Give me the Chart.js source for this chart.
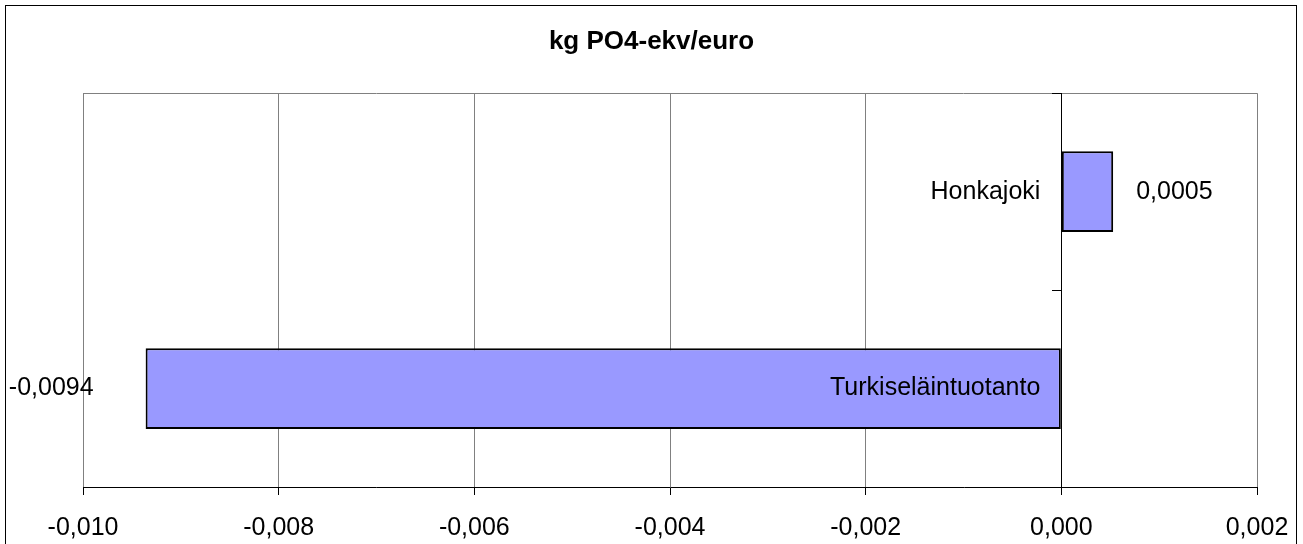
<!DOCTYPE html>
<html>
<head>
<meta charset="utf-8">
<script src="https://cdn.jsdelivr.net/npm/chart.js@4"></script>
<style>
  body { margin: 0; background: #fff; }
</style>
</head>
<body>
<canvas id="chart" width="1303" height="544"></canvas>
<script>
// chart data
const categories = ['Honkajoki', 'Turkiseläintuotanto'];
const values = [0.00053, -0.00936];
const xTicks = [-0.010, -0.008, -0.006, -0.004, -0.002, 0.000, 0.002];

const FONT = '"Liberation Sans", Arial, sans-serif';

// comma decimals like the original
function fmt(v, d) {
    return v.toFixed(d).replace('.', ',');
}

// outer frame, plot frame top line, category and value labels
const extras = {
    id: 'extras',
    beforeDraw(chart) {
        const ctx = chart.ctx;
        const area = chart.chartArea;
        ctx.save();
        ctx.fillStyle = '#fff';
        ctx.fillRect(0, 0, chart.width, chart.height);
        ctx.strokeStyle = '#000';
        ctx.lineWidth = 1;
        ctx.strokeRect(5.5, 5.5, 1291, 560);
        // top edge of the plot frame (drawn first so the axis tick sits on top)
        ctx.strokeStyle = '#808080';
        ctx.beginPath();
        ctx.moveTo(area.left, Math.round(area.top) + 0.5);
        ctx.lineTo(area.right, Math.round(area.top) + 0.5);
        ctx.stroke();
        ctx.restore();
    },
    afterDraw(chart) {
        const ctx = chart.ctx;
        const xs = chart.scales.x;
        const zero = xs.getPixelForValue(0);
        ctx.save();
        ctx.font = '25px ' + FONT;
        ctx.fillStyle = '#000';
        ctx.textBaseline = 'middle';
        const meta = chart.getDatasetMeta(0);
        meta.data.forEach(function (bar, i) {
            // category name next to the zero line
            ctx.textAlign = 'right';
            ctx.fillText(categories[i], zero - 21, bar.y);
            // value label outside the bar end
            const v = values[i];
            if (v >= 0) {
                ctx.textAlign = 'left';
                ctx.fillText(fmt(v, 4), bar.x + 23, bar.y);
            } else {
                ctx.textAlign = 'right';
                ctx.fillText(fmt(v, 4), bar.x - 52, bar.y);
            }
        });
        ctx.restore();
    }
};

const chart = new Chart(document.getElementById('chart').getContext('2d'), {
    type: 'bar',
    data: {
        labels: categories,
        datasets: [{
            data: values,
            backgroundColor: '#9999ff',
            borderColor: '#000',
            borderWidth: 2,
            borderSkipped: false,
            categoryPercentage: 1,
            barPercentage: 0.41,
        }],
    },
    options: {
        indexAxis: 'y',
        responsive: false,
        animation: false,
        layout: {
            padding: { top: 10, left: 46, right: 46, bottom: 0 },
        },
        plugins: {
            legend: { display: false },
            tooltip: { enabled: false },
            title: {
                display: true,
                text: 'kg PO4-ekv/euro',
                color: '#000',
                font: { family: FONT, size: 26, weight: 'bold', lineHeight: 1.2 },
                padding: { top: 16, bottom: 36 },
            },
        },
        scales: {
            x: {
                type: 'linear',
                min: xTicks[0],
                max: xTicks[xTicks.length - 1],
                afterBuildTicks: function (scale) {
                    scale.ticks = xTicks.map(function (v) { return { value: v }; });
                },
                afterFit: function (scale) {
                    scale.height = 57;
                    scale.paddingLeft = 0;
                    scale.paddingRight = 0;
                },
                grid: {
                    color: '#808080',
                    tickColor: '#000',
                    tickLength: 8,
                    lineWidth: 1,
                },
                border: { display: true, color: '#000', width: 1 },
                ticks: {
                    color: '#000',
                    padding: 18,
                    maxRotation: 0,
                    font: { family: FONT, size: 25 },
                    callback: function (v) { return fmt(v, 3); },
                },
            },
            y: {
                position: { x: 0 },
                offset: true,
                afterFit: function (scale) {
                    scale.paddingLeft = 0;
                    scale.paddingRight = 0;
                },
                grid: {
                    offset: true,
                    drawOnChartArea: false,
                    drawTicks: true,
                    tickLength: 9,
                    tickColor: '#000',
                },
                border: { display: true, color: '#000', width: 1 },
                ticks: { display: false },
            },
            // empty left axis, only keeps room left of the plot
            ySpace: {
                type: 'category',
                position: 'left',
                afterFit: function (scale) {
                    scale.width = 37;
                    scale.paddingLeft = 0;
                    scale.paddingRight = 0;
                },
                grid: { display: false },
                border: { display: false },
                ticks: { display: false },
            },
        },
    },
    plugins: [extras],
});
</script>
</body>
</html>
